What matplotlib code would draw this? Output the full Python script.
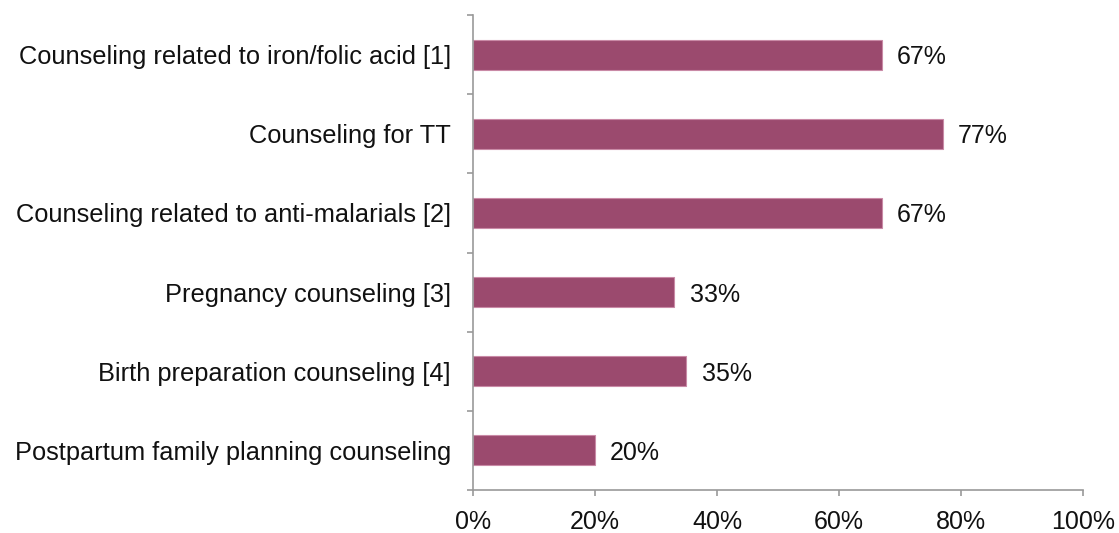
import numpy as np
import matplotlib.pyplot as plt
from matplotlib.ticker import FixedLocator

categories = ["Counseling related to iron/folic acid [1]",
              "Counseling for TT",
              "Counseling related to anti-malarials [2]",
              "Pregnancy counseling [3]",
              "Birth preparation counseling [4]",
              "Postpartum family planning counseling"]
values = [67, 77, 67, 33, 35, 20]
xticks = [0, 20, 40, 60, 80, 100]

plt.rcParams['font.family'] = ['Liberation Sans', 'DejaVu Sans']

fig = plt.figure(figsize=(11.19, 5.33), dpi=100)
ax = fig.add_axes([0.4227, 0.0807, 0.5451, 0.891])

y = np.arange(len(categories))
ax.barh(y, values, height=0.38, color='#9b4a6e', edgecolor='#c98aa6', linewidth=0.8)
for yi, v in zip(y, values):
    ax.text(v + 2.5, yi, f"{v}%", va='center_baseline', ha='left', fontsize=18, color='#111111')

ax.set_ylim(len(categories) - 0.5, -0.5)
ax.set_xlim(0, 100)
ax.set_yticks(y)
ax.set_yticklabels(categories, fontsize=18.3, color='#111111')
ax.yaxis.set_minor_locator(FixedLocator(np.arange(-0.5, len(categories), 1)))
ax.tick_params(axis='y', which='major', length=0, pad=16)
ax.tick_params(axis='y', which='minor', length=4.5, color='#999999', width=1.2)
ax.set_xticks(xticks)
ax.set_xticklabels([f"{t}%" for t in xticks], fontsize=18, color='#111111')
ax.tick_params(axis='x', length=4.5, color='#999999', width=1.2, pad=10)

for s in ['top', 'right']:
    ax.spines[s].set_visible(False)
for s in ['left', 'bottom']:
    ax.spines[s].set_color('#999999')
    ax.spines[s].set_linewidth(1.2)

fig.savefig('out.png', dpi=100)
